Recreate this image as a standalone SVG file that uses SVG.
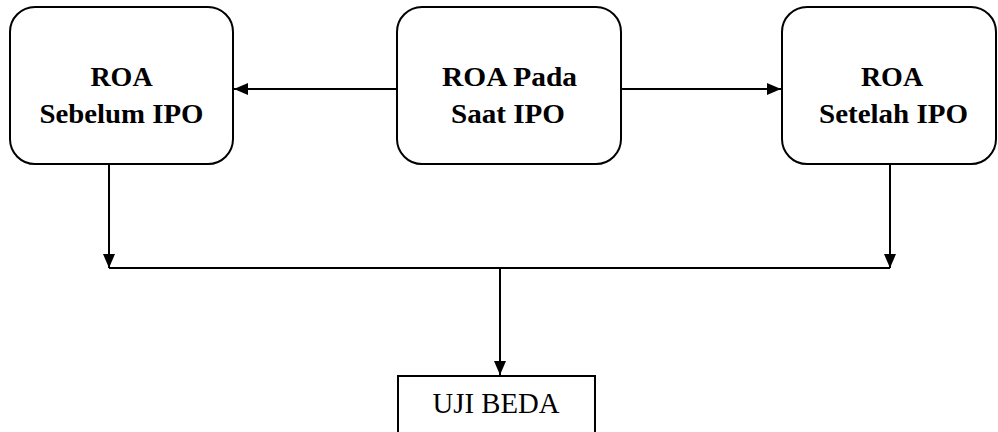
<svg xmlns="http://www.w3.org/2000/svg" width="998" height="432" viewBox="0 0 998 432">
<style>
.box{fill:#fff;stroke:#000;stroke-width:2}
.ln{fill:none;stroke:#000;stroke-width:2}
.b{font-family:"Liberation Serif",serif;font-weight:700;font-size:28px;fill:#000;text-anchor:middle}
.r{font-family:"Liberation Serif",serif;font-size:29px;fill:#000;text-anchor:middle}
</style>
<defs>
<marker id="ah" viewBox="0 0 14 12" refX="14" refY="6" markerWidth="14" markerHeight="12" markerUnits="userSpaceOnUse" orient="auto">
<path d="M0,0 L14,6 L0,12 Z" fill="#000"/>
</marker>
</defs>
<rect width="998" height="432" fill="#fff"/>
<g id="connectors">
<line class="ln" x1="397" y1="89" x2="234" y2="89" marker-end="url(#ah)"/>
<line class="ln" x1="621" y1="89" x2="781" y2="89" marker-end="url(#ah)"/>
<line class="ln" x1="109" y1="164" x2="109" y2="268" marker-end="url(#ah)"/>
<line class="ln" x1="890" y1="164" x2="890" y2="268" marker-end="url(#ah)"/>
<line class="ln" x1="109" y1="268" x2="890" y2="268"/>
<line class="ln" x1="500" y1="268" x2="500" y2="375" marker-end="url(#ah)"/>
</g>
<g id="roa-sebelum">
<rect class="box" x="10" y="7" width="223" height="157" rx="25"/>
<text class="b" x="121.5" y="86">ROA</text>
<text class="b" x="121.5" y="123" textLength="164" lengthAdjust="spacingAndGlyphs">Sebelum IPO</text>
</g>
<g id="roa-pada">
<rect class="box" x="397" y="7" width="224" height="157" rx="25"/>
<text class="b" x="509.5" y="86" textLength="135" lengthAdjust="spacingAndGlyphs">ROA Pada</text>
<text class="b" x="508" y="123" textLength="114" lengthAdjust="spacingAndGlyphs">Saat IPO</text>
</g>
<g id="roa-setelah">
<rect class="box" x="782" y="7" width="214" height="157" rx="25"/>
<text class="b" x="892" y="86">ROA</text>
<text class="b" x="893.5" y="123" textLength="149" lengthAdjust="spacingAndGlyphs">Setelah IPO</text>
</g>
<g id="uji-beda">
<rect class="box" x="398" y="376" width="197" height="70"/>
<text class="r" x="496" y="413" textLength="127" lengthAdjust="spacingAndGlyphs">UJI BEDA</text>
</g>
</svg>
